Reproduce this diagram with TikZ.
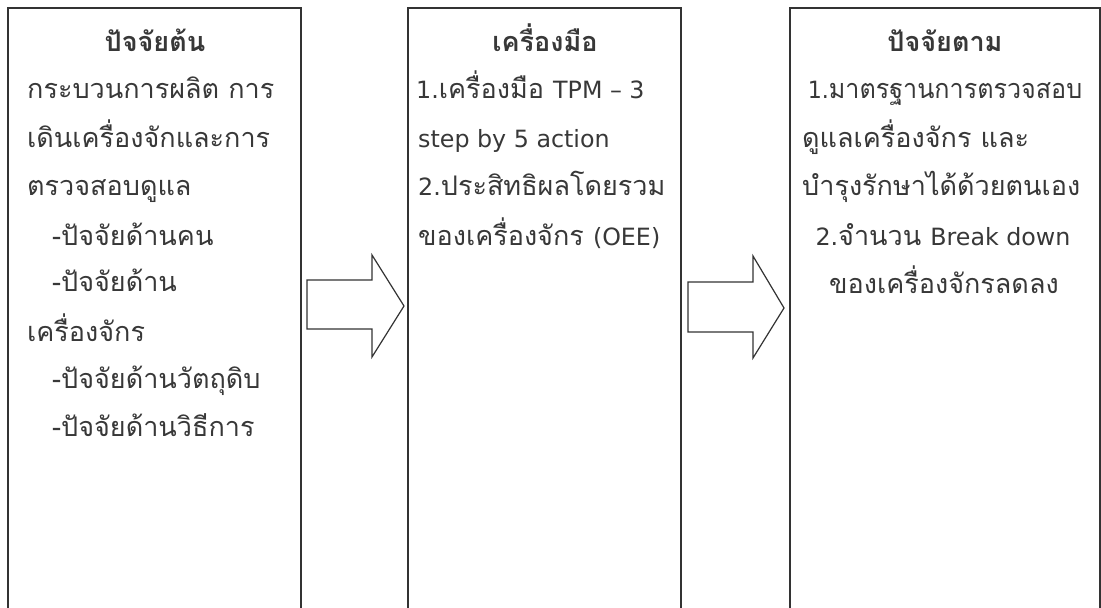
\documentclass[tikz,border=0pt]{standalone}
\usepackage{fontspec}
\setmainfont[Script=Thai]{Loma}
\newfontfamily\lat{DejaVu Sans}[Scale=0.88]
\begin{document}
\begin{tikzpicture}[x=1pt,y=-1pt,
  boxline/.style={draw=black!80,line width=1.3pt},
  arrowshape/.style={draw=black!80,line width=1.2pt,line join=miter},
  txt/.style={inner sep=0pt,text=black!78,font=\fontsize{27}{32}\selectfont},
  ttl/.style={txt,font=\fontsize{27}{32}\selectfont\bfseries,anchor=base},
  lft/.style={txt,anchor=base west},
  ctr/.style={txt,anchor=base}]
\useasboundingbox (0,0) rectangle (1101,608);
\fill[white] (0,0) rectangle (1101,608);
\clip (0,0) rectangle (1101,608);
% boxes
\draw[boxline] (8,8) rectangle (301,660);
\draw[boxline] (408,8) rectangle (681,660);
\draw[boxline] (790,8) rectangle (1100,660);
% arrows
\draw[arrowshape] (307,280) -- (372,280) -- (372,255) -- (404,306) -- (372,357) -- (372,329) -- (307,329) -- cycle;
\draw[arrowshape] (688,282) -- (753,282) -- (753,256) -- (784,308) -- (753,358) -- (753,332) -- (688,332) -- cycle;
% box 1 text
\node[ttl] (t1) at (155,51) {ปัจจัยต้น};
\node[lft] (a1) at (27,98) {กระบวนการผลิต การ};
\node[lft] (a2) at (27,147) {เดินเครื่องจักและการ};
\node[lft] (a3) at (27,195) {ตรวจสอบดูแล};
\node[lft] (a4) at (52,245) {-ปัจจัยด้านคน};
\node[lft] (a5) at (52,291) {-ปัจจัยด้าน};
\node[lft] (a6) at (27,341) {เครื่องจักร};
\node[lft] (a7) at (52,388) {-ปัจจัยด้านวัตถุดิบ};
\node[lft] (a8) at (52,436) {-ปัจจัยด้านวิธีการ};
% box 2 text
\node[ttl] (t2) at (545,51) {เครื่องมือ};
\node[lft] (b1) at (416,98) {{\lat 1.}เครื่องมือ {\lat TPM – 3}};
\node[lft] (b2) at (418,147) {\lat step by 5 action};
\node[lft] (b3) at (418,195) {{\lat 2.}ประสิทธิผลโดยรวม};
\node[lft] (b4) at (418,245) {ของเครื่องจักร {\lat (OEE)}};
% box 3 text
\node[ttl] (t3) at (945,51) {ปัจจัยตาม};
\node[ctr] (c1) at (945,98) {\scalebox{0.93}[1]{{\lat 1.}มาตรฐานการตรวจสอบ}};
\node[lft] (c2) at (802,147) {ดูแลเครื่องจักร และ};
\node[lft] (c3) at (802,195) {บำรุงรักษาได้ด้วยตนเอง};
\node[ctr] (c4) at (943,245) {{\lat 2.}จำนวน {\lat Break down}};
\node[ctr] (c5) at (944,293) {ของเครื่องจักรลดลง};
\end{tikzpicture}
\end{document}
